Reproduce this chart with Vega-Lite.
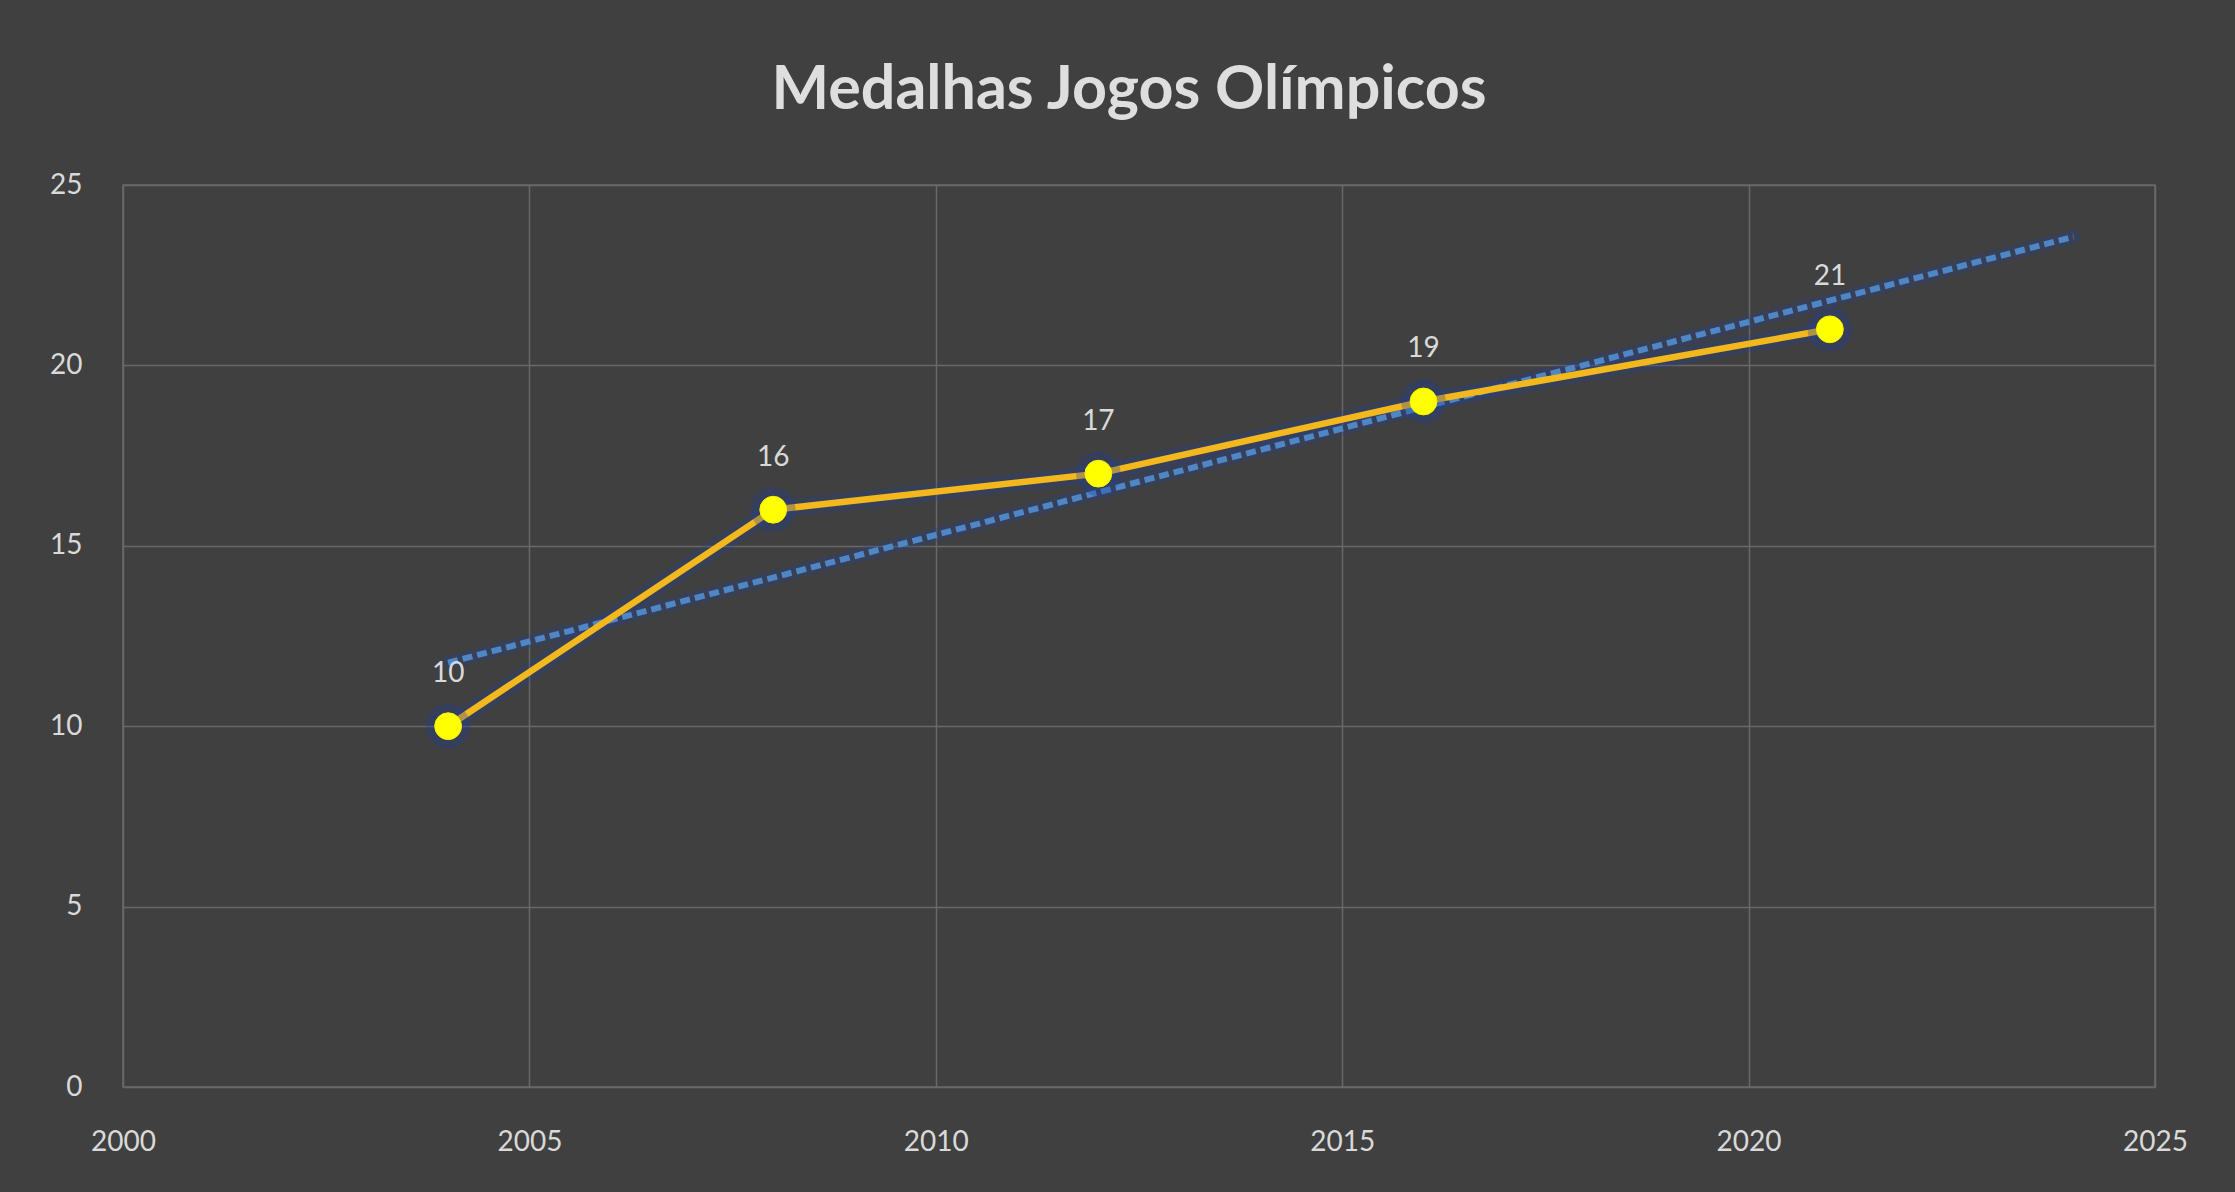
{
  "$schema": "https://vega.github.io/schema/vega-lite/v6.json",
  "width": 2032,
  "height": 902,
  "autosize": {"type": "none"},
  "padding": {"left": 123, "top": 185, "right": 80, "bottom": 105},
  "background": "#404040",
  "title": {
    "text": "Medalhas Jogos Olímpicos",
    "font": "Lato",
    "fontSize": 61,
    "fontWeight": "bold",
    "color": "#dedede",
    "anchor": "middle",
    "offset": 49,
    "dx": -10
  },
  "data": {
    "values": [
      {"ano": 2004, "medalhas": 10},
      {"ano": 2008, "medalhas": 16},
      {"ano": 2012, "medalhas": 17},
      {"ano": 2016, "medalhas": 19},
      {"ano": 2021, "medalhas": 21}
    ]
  },
  "encoding": {
    "x": {
      "field": "ano",
      "type": "quantitative",
      "scale": {"domain": [2000, 2025], "nice": false, "zero": false},
      "axis": {
        "title": null,
        "values": [2000, 2005, 2010, 2015, 2020, 2025],
        "format": "d",
        "grid": true,
        "gridColor": "#686868",
        "gridWidth": 1.5,
        "domain": false,
        "ticks": false,
        "labelFont": "Lato",
        "labelFontSize": 28,
        "labelColor": "#d9d9d9",
        "labelPadding": 41,
        "labelOverlap": false,
        "labelFlush": false,
        "labelBound": false
      }
    },
    "y": {
      "field": "medalhas",
      "type": "quantitative",
      "scale": {"domain": [0, 25], "nice": false},
      "axis": {
        "title": null,
        "values": [0, 5, 10, 15, 20, 25],
        "grid": true,
        "gridColor": "#686868",
        "gridWidth": 1.5,
        "domain": false,
        "ticks": false,
        "labelFont": "Lato",
        "labelFontSize": 28,
        "labelColor": "#d9d9d9",
        "labelPadding": 41,
        "labelOverlap": false,
        "labelFlush": false,
        "labelBound": false
      }
    }
  },
  "layer": [
    {
      "mark": {"type": "line", "color": "#1f3f9a", "strokeWidth": 18, "opacity": 0.25, "strokeCap": "round"}
    },
    {
      "transform": [{"regression": "medalhas", "on": "ano", "extent": [2004, 2024]}],
      "mark": {"type": "line", "color": "#1f3f9a", "strokeWidth": 14, "opacity": 0.25, "strokeCap": "round"}
    },
    {
      "transform": [{"regression": "medalhas", "on": "ano", "extent": [2004, 2024]}],
      "mark": {"type": "line", "color": "#4f86c6", "strokeWidth": 6, "strokeDash": [10, 5]}
    },
    {
      "mark": {"type": "line", "color": "#f2b81e", "strokeWidth": 6.5}
    },
    {
      "mark": {"type": "circle", "color": "#1f3f9a", "size": 2000, "opacity": 0.3}
    },
    {
      "mark": {"type": "circle", "color": "#ffff00", "size": 720, "opacity": 1, "stroke": "#f4f400", "strokeWidth": 1}
    },
    {
      "mark": {"type": "text", "dy": -52, "baseline": "middle", "align": "center", "font": "Lato", "fontSize": 28, "color": "#d9d9d9"},
      "encoding": {"text": {"field": "medalhas", "type": "quantitative"}}
    }
  ],
  "config": {
    "view": {"stroke": "#686868", "strokeWidth": 1.5}
  }
}
